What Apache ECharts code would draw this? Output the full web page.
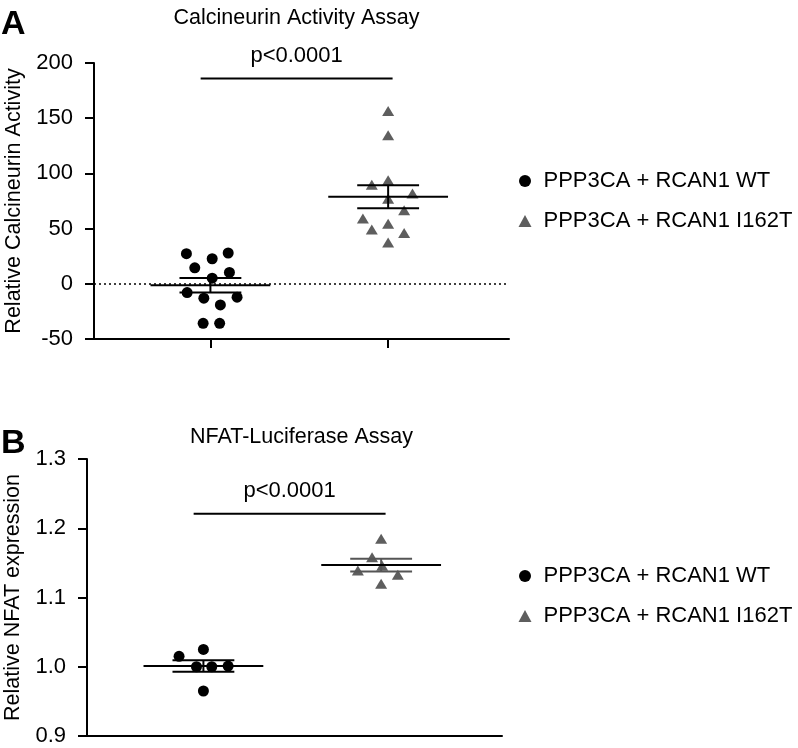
<!DOCTYPE html>
<html><head><meta charset="utf-8">
<script src="https://cdn.jsdelivr.net/npm/echarts@6/dist/echarts.min.js"></script>
<style>html,body{margin:0;padding:0;background:#fff}#c{width:798px;height:748px}</style>
</head><body><div id="c"></div>
<script>
// ---------- data ----------
const groupNames = ['PPP3CA + RCAN1 WT', 'PPP3CA + RCAN1 I162T'];
const titleA = 'Calcineurin Activity Assay';
const titleB = 'NFAT-Luciferase Assay';
const yNameA = 'Relative Calcineurin Activity';
const yNameB = 'Relative NFAT expression';
const pLabel = 'p<0.0001';

// Panel A: relative calcineurin activity
const aWt = [27.3, 22.7, 27.9, 14.5, 10.3, 5.1, -7.9, -13.0, -12.1, -19.1, -35.8, -35.8];
const aWtJitter = [-0.135, 0.01, 0.10, -0.088, 0.107, 0.01, -0.131, -0.037, 0.15, 0.056, -0.041, 0.052];
const aMut = [156.6, 134.5, 93.9, 89.7, 81.8, 77.0, 66.6, 59.1, 49.1, 54.5, 46.1, 37.5];
const aMutJitter = [0, 0, 0, -0.092, 0.137, 0, 0.09, -0.142, -0.092, 0, 0.09, 0];
const aSigY = 186;
const aTicks = { min: -50, max: 200, interval: 50 };

// Panel B: relative NFAT expression
const bWt = [1.015, 1.025, 1.000, 1.000, 1.001, 0.965];
const bWtJitter = [-0.137, 0, -0.039, 0.047, 0.139, 0];
const bMut = [1.185, 1.158, 1.146, 1.139, 1.133, 1.120];
const bMutJitter = [0, -0.051, 0.006, -0.131, 0.094, 0];
const bSigY = 1.221;
const bTicks = { min: 0.9, max: 1.3, interval: 0.1 };

// ---------- helpers ----------
const FONT = '"Liberation Sans", Arial, Helvetica, sans-serif';
const FS = 22;
const WT_COLOR = '#000000';
const MUT_COLOR = '#5e5e5e';

function pts(vals, jit, cat) { return vals.map((v, i) => [cat + jit[i], v]); }
function mean(a) { return a.reduce((s, v) => s + v, 0) / a.length; }
function sem(a) {
  const m = mean(a);
  const sd = Math.sqrt(a.reduce((s, v) => s + (v - m) * (v - m), 0) / (a.length - 1));
  return sd / Math.sqrt(a.length);
}
function errData(wt, mut) { return [[1, mean(wt), sem(wt)], [2, mean(mut), sem(mut)]]; }

const HALF_MEAN = 0.337, HALF_CAP = 0.174;
function errRender(capColors) {
  return function (params, api) {
    const x = api.value(0), m = api.value(1), s = api.value(2);
    const c = capColors[params.dataIndex];
    const ml = api.coord([x - HALF_MEAN, m]), mr = api.coord([x + HALF_MEAN, m]);
    const tl = api.coord([x - HALF_CAP, m + s]), tr = api.coord([x + HALF_CAP, m + s]);
    const bl = api.coord([x - HALF_CAP, m - s]), br = api.coord([x + HALF_CAP, m - s]);
    const top = api.coord([x, m + s]), bot = api.coord([x, m - s]);
    const ln = (a, b, col) => ({ type: 'line', shape: { x1: a[0], y1: a[1], x2: b[0], y2: b[1] }, style: { stroke: col, lineWidth: 2 } });
    return { type: 'group', children: [ln(top, bot, c), ln(tl, tr, c), ln(bl, br, c), ln(ml, mr, '#000')] };
  };
}
function sigRender(params, api) {
  const y = api.value(2);
  const a = api.coord([api.value(0), y]), b = api.coord([api.value(1), y]);
  return { type: 'group', children: [
    { type: 'line', shape: { x1: a[0], y1: a[1], x2: b[0], y2: b[1] }, style: { stroke: '#000', lineWidth: 2 } },
    { type: 'text', x: (a[0] + b[0]) / 2, y: a[1] - 23, style: { text: pLabel, fontSize: FS, fontFamily: FONT, fill: '#000', align: 'center', verticalAlign: 'middle', textAlign: 'center', textVerticalAlign: 'middle' } }
  ] };
}

function xAx(gridIndex, showTicks) {
  return {
    type: 'value', gridIndex, min: 0.345, max: 2.68,
    axisLine: { show: true, onZero: false, lineStyle: { color: '#000', width: 2 } },
    axisTick: { show: showTicks, customValues: [1, 2], length: 9, lineStyle: { color: '#000', width: 2 } },
    axisLabel: { show: false }, splitLine: { show: false }
  };
}
function yAx(gridIndex, t, name, gap, margin, dec) {
  return {
    type: 'value', gridIndex, min: t.min, max: t.max, interval: t.interval,
    name, nameLocation: 'middle', nameGap: gap,
    nameTextStyle: { fontSize: 21.5, fontFamily: FONT, color: '#000' },
    axisLine: { show: true, onZero: false, lineStyle: { color: '#000', width: 2 } },
    axisTick: { show: true, length: 9, lineStyle: { color: '#000', width: 2 } },
    axisLabel: { fontSize: FS, fontFamily: FONT, color: '#000', margin, formatter: v => (dec ? Number(v).toFixed(dec) : String(Math.round(v))) },
    splitLine: { show: false }
  };
}
function legendAt(top) {
  return {
    orient: 'vertical', left: 518.5, top, padding: 0, itemGap: 18, itemWidth: 13, itemHeight: 12,
    selectedMode: false,
    textStyle: { fontSize: FS, fontFamily: FONT, color: '#000', padding: [0, 0, 0, 7] },
    data: [{ name: groupNames[0], icon: 'circle' }, { name: groupNames[1], icon: 'triangle' }]
  };
}
function scatter(name, data, xi, symbol, size, color) {
  return { type: 'scatter', name, xAxisIndex: xi, yAxisIndex: xi, data, symbol, symbolSize: size,
    itemStyle: { color, opacity: 1 }, z: 3, silent: true };
}

const chart = echarts.init(document.getElementById('c'), null, { renderer: 'canvas' });
chart.setOption({
  animation: false,
  backgroundColor: '#fff',
  title: [
    { text: 'A', left: 1, top: 8, padding: 0, textStyle: { fontSize: 34, fontWeight: 'bold', fontFamily: FONT, color: '#000' } },
    { text: titleA, left: 296.5, top: 7, padding: 0, textAlign: 'center', textStyle: { fontSize: 21.5, fontWeight: 'normal', fontFamily: FONT, color: '#000' } },
    { text: 'B', left: 1, top: 427, padding: 0, textStyle: { fontSize: 34, fontWeight: 'bold', fontFamily: FONT, color: '#000' } },
    { text: titleB, left: 301.5, top: 426, padding: 0, textAlign: 'center', textStyle: { fontSize: 21.5, fontWeight: 'normal', fontFamily: FONT, color: '#000' } }
  ],
  legend: [legendAt(170), legendAt(565)],
  grid: [
    { left: 94, top: 63, width: 415, height: 276, containLabel: false, outerBoundsMode: 'none' },
    { left: 87, top: 459, width: 415, height: 277, containLabel: false, outerBoundsMode: 'none' }
  ],
  xAxis: [xAx(0, true), xAx(1, false)],
  yAxis: [yAx(0, aTicks, yNameA, 68, 21, 0), yAx(1, bTicks, yNameB, 61, 21, 1)],
  series: [
    Object.assign(scatter(groupNames[0], pts(aWt, aWtJitter, 1), 0, 'circle', 11, WT_COLOR), {
      markLine: { silent: true, symbol: 'none', label: { show: false },
        lineStyle: { color: '#000', width: 1.5, type: [2, 3] }, data: [{ yAxis: 0 }] }
    }),
    scatter(groupNames[1], pts(aMut, aMutJitter, 2), 0, 'triangle', [12, 10], MUT_COLOR),
    { type: 'custom', xAxisIndex: 0, yAxisIndex: 0, clip: false, silent: true, z: 4,
      renderItem: errRender(['#000', '#000']), data: errData(aWt, aMut) },
    { type: 'custom', xAxisIndex: 0, yAxisIndex: 0, clip: false, silent: true, z: 4,
      renderItem: sigRender, data: [[0.945, 2.025, aSigY]] },

    scatter(groupNames[0], pts(bWt, bWtJitter, 1), 1, 'circle', 11, WT_COLOR),
    scatter(groupNames[1], pts(bMut, bMutJitter, 2), 1, 'triangle', [12, 10], MUT_COLOR),
    { type: 'custom', xAxisIndex: 1, yAxisIndex: 1, clip: false, silent: true, z: 4,
      renderItem: errRender(['#000', '#555']), data: errData(bWt, bMut) },
    { type: 'custom', xAxisIndex: 1, yAxisIndex: 1, clip: false, silent: true, z: 4,
      renderItem: sigRender, data: [[0.945, 2.025, bSigY]] }
  ]
});
</script>
</body></html>
